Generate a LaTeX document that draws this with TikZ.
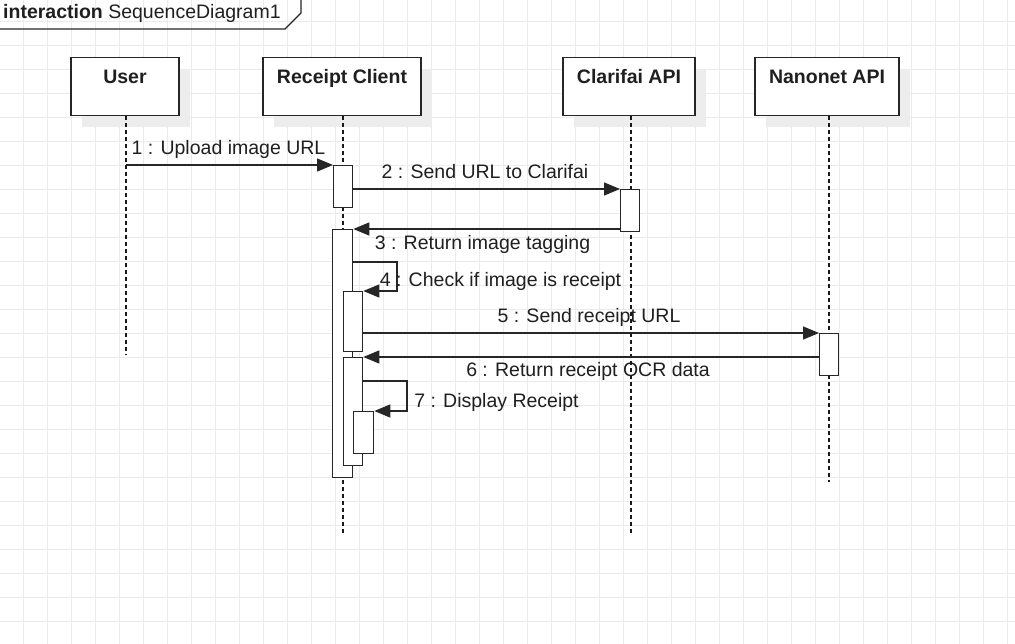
\documentclass[tikz,border=0pt]{standalone}
\usepackage{fontspec}
\setmainfont{Liberation Sans}
\usetikzlibrary{arrows.meta,shadows}
\begin{document}
\begin{tikzpicture}[x=1pt,y=-1pt,
  every node/.style={font=\fontsize{19.5}{23}\selectfont, inner sep=0pt, text=black!88},
  gridline/.style={draw=black!8, line width=0.9pt},
  head/.style={draw=black!85, line width=1.3pt, fill=white, anchor=north,
    font=\fontsize{19.5}{23}\selectfont\bfseries,
    minimum height=58pt, text height=25.5pt, text depth=32.5pt,
    drop shadow={shadow xshift=11pt, shadow yshift=-11pt, fill=black!7, opacity=1}},
  life/.style={draw=black!90, line width=1.3pt, dash pattern=on 4pt off 3pt},
  act/.style={draw=black!85, line width=1.3pt, fill=white, anchor=north west, minimum width=19pt},
  msg/.style={draw=black!85, line width=1.3pt, -{Triangle[length=16pt,width=13pt]}},
  lbl/.style={anchor=base}]
\useasboundingbox (0,0) rectangle (1015,644);
\fill[white] (0,0) rectangle (1015,644);
% grid
\foreach \i in {0,...,41} \draw[gridline] (23.3+24*\i,0) -- (23.3+24*\i,644);
\foreach \j in {0,...,25} \draw[gridline] (0,21.7+24*\j) -- (1015,21.7+24*\j);
% frame tab
\coordinate (f1) at (0,29);
\coordinate (f2) at (285,29);
\coordinate (f3) at (301,13);
\coordinate (f4) at (301,0);
\draw[draw=black!85, line width=1.3pt] (f1) -- (f2) -- (f3) -- (f4);
\node[anchor=base west] (title) at (3,19) {\textbf{interaction} SequenceDiagram1};
% heads
\node[head, minimum width=108pt] (user) at (125,57) {User};
\node[head, minimum width=158pt] (rc) at (342,57) {Receipt Client};
\node[head, minimum width=132pt] (cl) at (629,57) {Clarifai API};
\node[head, minimum width=144pt] (nn) at (827,57) {Nanonet API};
% lifelines
\coordinate (uEnd) at (126,355);
\coordinate (rEnd) at (343,533);
\coordinate (cEnd) at (631,533);
\coordinate (nEnd) at (829,482);
\draw[life] (user.south -| uEnd) -- (uEnd);
\draw[life] (rc.south -| rEnd) -- (rEnd);
\draw[life] (cl.south -| cEnd) -- (cEnd);
\draw[life] (nn.south -| nEnd) -- (nEnd);
% activations
\node[act, minimum height=42pt] (a1) at (333,165) {};
\node[act, minimum height=42pt] (c1) at (620,189) {};
\node[act, minimum height=248pt, minimum width=20pt] (a2) at (332,229) {};
\node[act, minimum height=60pt] (a3) at (343,291) {};
\node[act, minimum height=108pt] (a4) at (343,357) {};
\node[act, minimum height=42pt, minimum width=20pt] (a5) at (353,411) {};
\node[act, minimum height=42pt] (n1) at (819,333) {};
% messages
\draw[msg] (a1.north west -| uEnd) -- (a1.north west);
\node[lbl] (l1) at (228.5,155) {1 : Upload image URL};
\draw[msg] (c1.north west -| a1.east) -- (c1.north west);
\node[lbl] (l2) at (485,179) {2 : Send URL to Clarifai};
\draw[msg] (a2.north east -| c1.west) -- (a2.north east);
\node[lbl] (l3) at (482.5,250) {3 : Return image tagging};
\coordinate (m4a) at (352,262);
\coordinate (m4b) at (397,262);
\draw[msg] (m4a) -- (m4b) |- (a3.north east);
\node[lbl] (l4) at (500.5,286.5) {4 : Check if image is receipt};
\draw[msg] (n1.north west -| a3.east) -- (n1.north west);
\node[lbl] (l5) at (589,323) {5 : Send receipt URL};
\draw[msg] (a4.north east -| n1.west) -- (a4.north east);
\node[lbl] (l6) at (588,377) {6 : Return receipt OCR data};
\coordinate (m7a) at (362,381);
\coordinate (m7b) at (407,381);
\draw[msg] (m7a) -- (m7b) |- (a5.north east);
\node[lbl] (l7) at (496.5,407) {7 : Display Receipt};
\end{tikzpicture}
\end{document}
